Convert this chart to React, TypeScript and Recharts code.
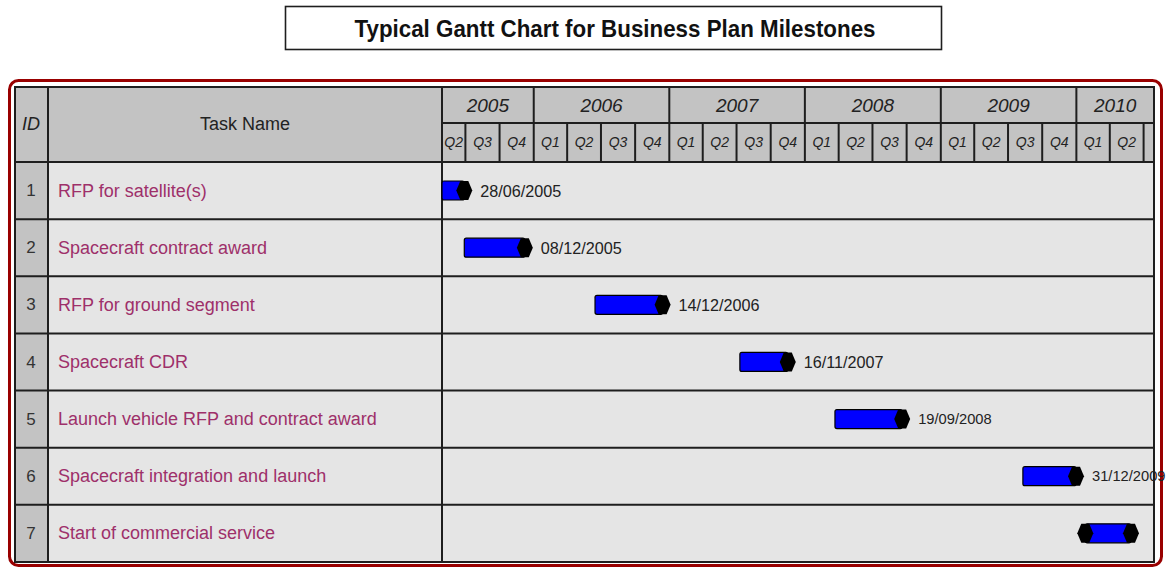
import React from "react"
import { BarChart, Bar, XAxis, YAxis, LabelList } from "recharts"

// tasks, top to bottom
const TASK_IDS = [1, 2, 3, 4, 5, 6, 7]
const TASK_NAMES = [
  "RFP for satellite(s)",
  "Spacecraft contract award",
  "RFP for ground segment",
  "Spacecraft CDR",
  "Launch vehicle RFP and contract award",
  "Spacecraft integration and launch",
  "Start of commercial service"
]
const START_DATES = ["2005-04-29", "2005-06-28", "2006-06-15", "2007-07-10", "2008-03-22", "2009-08-10", "2010-01-25"]
const END_DATES = ["2005-06-28", "2005-12-08", "2006-12-14", "2007-11-16", "2008-09-19", "2009-12-31", "2010-05-28"]
const END_LABELS = ["28/06/2005", "08/12/2005", "14/12/2006", "16/11/2007", "19/09/2008", "31/12/2009", ""]
const START_MARKERS = [false, false, false, false, false, false, true]

// time scale
const YEARS = [2005, 2006, 2007, 2008, 2009, 2010]
const QUARTER_LABELS = ["Q1", "Q2", "Q3", "Q4"]
const TIMELINE = ["2005-04-29", "2010-07-29"]

const W = 1171
const H = 567
const TABLE_L = 15
const ID_R = 48
const NAME_R = 442
const TABLE_R = 1154
const TABLE_T = 87
const YEAR_B = 123
const HEAD_B = 162
const TABLE_B = 562
const BAND = (TABLE_B - HEAD_B) / TASK_NAMES.length

const LINE = "#1e1e1e"
const FONT = "'Liberation Sans', Arial, sans-serif"
const DAY = 86400000

const D0 = Date.parse(TIMELINE[0])
const D1 = Date.parse(TIMELINE[1])

const data = TASK_NAMES.map((name, i) => ({
  id: TASK_IDS[i],
  name,
  start: Date.parse(START_DATES[i]),
  end: Date.parse(END_DATES[i]),
  label: END_LABELS[i],
  startMarker: START_MARKERS[i]
}))

// header ticks: year / quarter boundaries and labels
type HeadTick = { kind: string; label?: string }
const headTicks = new Map<number, HeadTick>()
YEARS.forEach((y) => {
  const ys = Date.UTC(y, 0, 1)
  const ye = Date.UTC(y + 1, 0, 1)
  if (ys > D0 && ys < D1) headTicks.set(ys, { kind: "yLine" })
  const a = Math.max(ys, D0)
  const b = Math.min(ye, D1)
  if (b > a) headTicks.set((a + b) / 2, { kind: "yText", label: String(y) })
  QUARTER_LABELS.forEach((q, i) => {
    const qs = Date.UTC(y, i * 3, 1)
    const qe = Date.UTC(y, i * 3 + 3, 1)
    if (i > 0 && qs > D0 && qs < D1) headTicks.set(qs, { kind: "qLine" })
    const qa = Math.max(qs, D0)
    const qb = Math.min(qe, D1)
    if (qb - qa > 40 * DAY) headTicks.set((qa + qb) / 2, { kind: "qText", label: q })
  })
})
const HEAD_TICKS = Array.from(headTicks.keys()).sort((a, b) => a - b)

function HeaderTick(props: any) {
  const { x, payload } = props
  const info = headTicks.get(payload.value)
  if (!info) return null
  if (info.kind === "yLine")
    return <line x1={x} x2={x} y1={TABLE_T} y2={HEAD_B} stroke={LINE} strokeWidth={2} />
  if (info.kind === "qLine")
    return <line x1={x} x2={x} y1={YEAR_B} y2={HEAD_B} stroke={LINE} strokeWidth={2} />
  if (info.kind === "yText")
    return (
      <text x={x} y={105} textAnchor="middle" dominantBaseline="central" fontFamily={FONT}
        fontStyle="italic" fontSize={19} fill="#222">{info.label}</text>
    )
  return (
    <text x={x} y={142} textAnchor="middle" dominantBaseline="central" fontFamily={FONT}
      fontStyle="italic" fontSize={14} fill="#222">{info.label}</text>
  )
}

function RowTick(props: any) {
  const { y, payload, index } = props
  return (
    <g>
      <line x1={TABLE_L} x2={TABLE_R} y1={y + BAND / 2} y2={y + BAND / 2} stroke={LINE} strokeWidth={2} />
      <text x={31} y={y} textAnchor="middle" dominantBaseline="central" fontFamily={FONT}
        fontSize={17} fill="#333">{TASK_IDS[index]}</text>
      <text x={58} y={y} dominantBaseline="central" fontFamily={FONT} fontSize={18}
        fill="#9e306a">{payload.value}</text>
    </g>
  )
}

function hexagon(cx: number, y: number, h: number) {
  const m = y + h / 2
  return `M${cx - 8},${m} L${cx - 4},${y} L${cx + 4},${y} L${cx + 8},${m} L${cx + 4},${y + h} L${cx - 4},${y + h} Z`
}

function TaskShape(props: any) {
  const { x, y, width, height, payload } = props
  if (width == null) return null
  return (
    <g>
      <rect x={x} y={y} width={width} height={height} rx={2} fill="#0000ff" stroke="#000" strokeWidth={1.2} />
      <path d={hexagon(x + width, y, height)} fill="#000" />
      {payload && payload.startMarker && <path d={hexagon(x, y, height)} fill="#000" />}
    </g>
  )
}

function DateLabel(props: any) {
  const { x, y, width, height, value, index } = props
  if (!value) return null
  return (
    <text x={x + width + 16} y={y + height / 2} dominantBaseline="central" fontFamily={FONT}
      fontSize={index >= 4 ? 14.7 : 16.2} fill="#222">{value}</text>
  )
}

function Frame() {
  return (
    <svg width={W} height={H} style={{ position: "absolute", left: 0, top: 0 }}>
      <rect x={285.5} y={6.5} width={656} height={43} fill="#fff" stroke={LINE} strokeWidth={1.6} />
      <text x={615} y={28} textAnchor="middle" dominantBaseline="central" fontFamily={FONT}
        fontWeight="bold" fontSize={24} textLength={521} lengthAdjust="spacingAndGlyphs" fill="#111">
        Typical Gantt Chart for Business Plan Milestones
      </text>

      <rect x={9.5} y={80.5} width={1152} height={485} rx={9} fill="#fff" stroke="#990000" strokeWidth={3} />

      <rect x={TABLE_L} y={TABLE_T} width={TABLE_R - TABLE_L} height={HEAD_B - TABLE_T} fill="#c3c3c3" />
      <rect x={TABLE_L} y={HEAD_B} width={TABLE_R - TABLE_L} height={TABLE_B - HEAD_B} fill="#e5e5e5" />
      <rect x={TABLE_L} y={HEAD_B} width={ID_R - TABLE_L} height={TABLE_B - HEAD_B} fill="#c3c3c3" />

      <line x1={ID_R} x2={ID_R} y1={TABLE_T} y2={TABLE_B} stroke={LINE} strokeWidth={2} />
      <line x1={NAME_R} x2={NAME_R} y1={TABLE_T} y2={TABLE_B} stroke={LINE} strokeWidth={2} />
      <line x1={NAME_R} x2={TABLE_R} y1={YEAR_B} y2={YEAR_B} stroke={LINE} strokeWidth={2} />
      <line x1={TABLE_L} x2={TABLE_R} y1={HEAD_B} y2={HEAD_B} stroke={LINE} strokeWidth={2} />
      <rect x={TABLE_L} y={TABLE_T} width={TABLE_R - TABLE_L} height={TABLE_B - TABLE_T} fill="none" stroke={LINE} strokeWidth={2} />

      <text x={31} y={124} textAnchor="middle" dominantBaseline="central" fontFamily={FONT}
        fontStyle="italic" fontSize={18} fill="#222">ID</text>
      <text x={245} y={124} textAnchor="middle" dominantBaseline="central" fontFamily={FONT}
        fontSize={18} fill="#222">Task Name</text>
    </svg>
  )
}

export default function App() {
  return (
    <div style={{ position: "absolute", left: 0, top: 0, width: W, height: H, background: "#fff" }}>
      <Frame />
      <div style={{ position: "absolute", left: 0, top: 0 }}>
        <BarChart
          width={W}
          height={H}
          data={data}
          layout="vertical"
          margin={{ top: TABLE_T, right: W - TABLE_R, bottom: H - TABLE_B, left: TABLE_L }}
        >
          <XAxis
            type="number"
            orientation="top"
            height={HEAD_B - TABLE_T}
            domain={[D0, D1]}
            ticks={HEAD_TICKS}
            interval={0}
            tick={<HeaderTick />}
            axisLine={false}
            tickLine={false}
          />
          <YAxis
            type="category"
            dataKey="name"
            width={NAME_R - TABLE_L}
            tick={<RowTick />}
            interval={0}
            axisLine={false}
            tickLine={false}
          />
          <Bar
            dataKey={(d: any) => [d.start, d.end]}
            barSize={19}
            shape={<TaskShape />}
            isAnimationActive={false}
          >
            <LabelList dataKey="label" content={<DateLabel />} />
          </Bar>
        </BarChart>
      </div>
    </div>
  )
}
